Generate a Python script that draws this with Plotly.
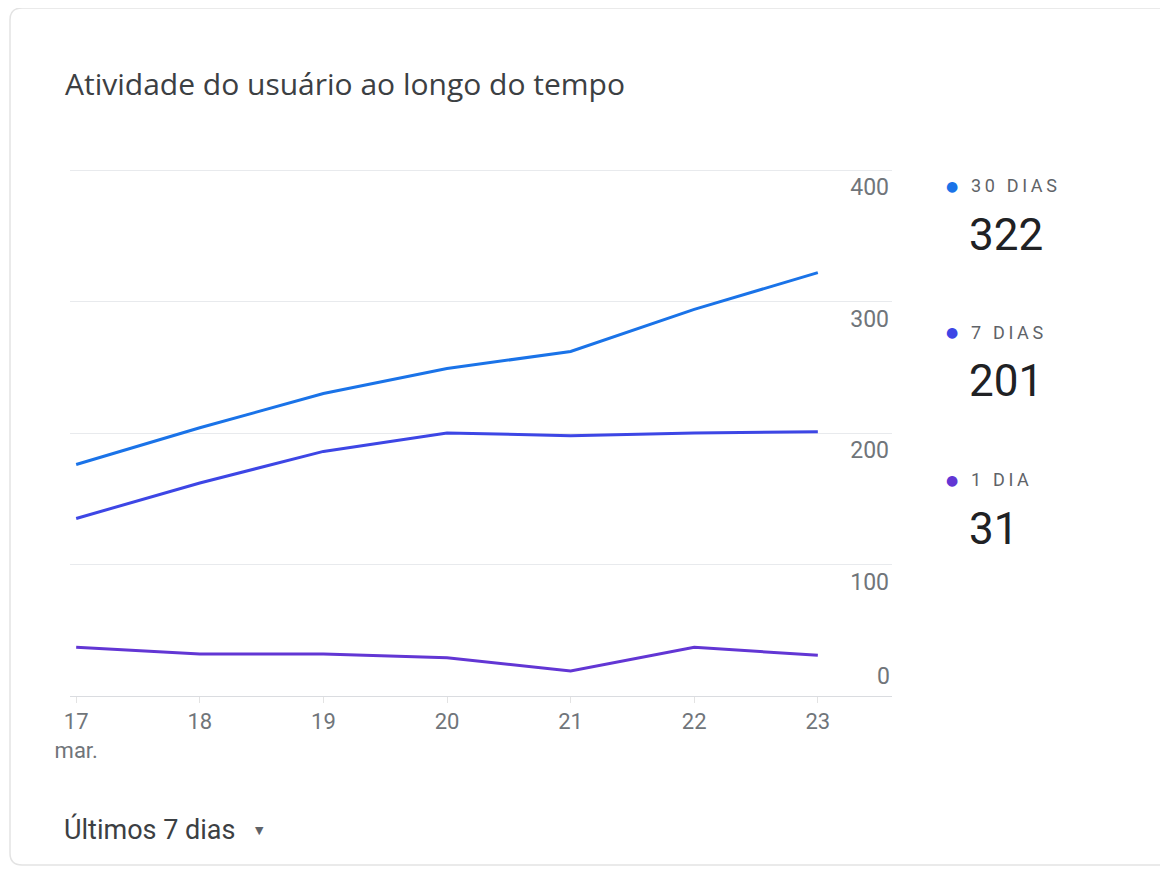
import plotly.graph_objects as go

days = [17, 18, 19, 20, 21, 22, 23]
day_labels = ["17<br>mar.", "18", "19", "20", "21", "22", "23"]
series_names = ["30 DIAS", "7 DIAS", "1 DIA"]
users_30d = [176, 204, 230, 249, 262, 294, 322]
users_7d = [135, 162, 186, 200, 198, 200, 201]
users_1d = [37, 32, 32, 29, 19, 37, 31]
y_ticks = [100, 200, 300, 400]
colors = ["#1a73e8", "#3d46e5", "#6236d4"]

W, H = 1168, 869
OFF = 8  # page body margin

fig = go.Figure()
for name, vals, col in zip(series_names, [users_30d, users_7d, users_1d], colors):
    fig.add_trace(go.Scatter(x=days, y=vals, mode="lines", name=name,
                             line=dict(color=col, width=3), hoverinfo="skip"))

def px(x):
    return (x - OFF) / W

def py(y):
    return 1 - (y - OFF) / H

YMAX = 402
top_px = 696 - YMAX * (526 / 400)

fig.update_layout(
    template="none",
    width=W, height=H,
    margin=dict(l=0, r=0, t=0, b=0, pad=0, autoexpand=False),
    paper_bgcolor="white", plot_bgcolor="white",
    showlegend=False,
    font=dict(family="Roboto", color="#5f6368"),
    xaxis=dict(domain=[px(70), px(892)], range=[16.95, 23.6], automargin=False,
               tickvals=days, ticktext=day_labels,
               showgrid=False, zeroline=False,
               showline=True, linecolor="#dadce0", linewidth=1,
               ticks="outside", ticklen=6, tickcolor="#e3e3e3",
               tickfont=dict(size=22, color="#70757a", family="Roboto")),
    yaxis=dict(domain=[py(696), py(top_px)], range=[0, YMAX], automargin=False,
               side="right", tickvals=y_ticks,
               ticklabelposition="inside", ticklabelshift=17, ticks="",
               showgrid=True, gridcolor="#e8eaed", gridwidth=1,
               zeroline=False, showline=False,
               tickfont=dict(size=23, color="#70757a", family="Roboto")),
)

# "0" label above the baseline
fig.add_annotation(x=1, xref="x domain", y=0, yref="y", text="0",
                   xanchor="right", yanchor="bottom", yshift=4, showarrow=False,
                   font=dict(size=23, color="#70757a", family="Roboto"))

# card border
fig.add_shape(type="path", xref="paper", yref="paper",
              path=f"M {px(1180)} {py(8)} L {px(22)} {py(8)} Q {px(10)} {py(8)} {px(10)} {py(20)} "
                   f"L {px(10)} {py(853)} Q {px(10)} {py(865)} {px(22)} {py(865)} L {px(1180)} {py(865)}",
              line=dict(color="#e3e3e3", width=1.5), layer="below")

# title
fig.add_annotation(x=px(63), y=py(83), xref="paper", yref="paper",
                   text="Atividade do usuário ao longo do tempo",
                   xanchor="left", yanchor="middle", showarrow=False,
                   font=dict(size=30, color="#3c4043", family="Open Sans"))

# footer
fig.add_annotation(x=px(62), y=py(829), xref="paper", yref="paper",
                   text="Últimos 7 dias", xanchor="left", yanchor="middle", showarrow=False,
                   font=dict(size=27, color="#3c4043", family="Roboto"))
fig.add_annotation(x=px(259), y=py(830), xref="paper", yref="paper",
                   text="▼", xanchor="center", yanchor="middle", showarrow=False,
                   font=dict(size=11, color="#5f6368", family="DejaVu Sans"))

# legend with latest values
label_y = [186, 332, 480]
thin = "\u2009"
for name, vals, col, ly in zip(series_names, [users_30d, users_7d, users_1d], colors, label_y):
    fig.add_annotation(x=px(952), y=py(ly), xref="paper", yref="paper", text="●",
                       xanchor="center", yanchor="middle", showarrow=False,
                       font=dict(size=14, color=col, family="DejaVu Sans"))
    fig.add_annotation(x=px(969), y=py(ly), xref="paper", yref="paper",
                       text=thin.join(name),
                       xanchor="left", yanchor="middle", showarrow=False,
                       font=dict(size=18, color="#5f6368", family="Roboto"))
    fig.add_annotation(x=px(967), y=py(ly + 49), xref="paper", yref="paper",
                       text=str(vals[-1]), xanchor="left", yanchor="middle", showarrow=False,
                       font=dict(size=44, color="#202124", family="Roboto"))

fig.write_html("out.html")
